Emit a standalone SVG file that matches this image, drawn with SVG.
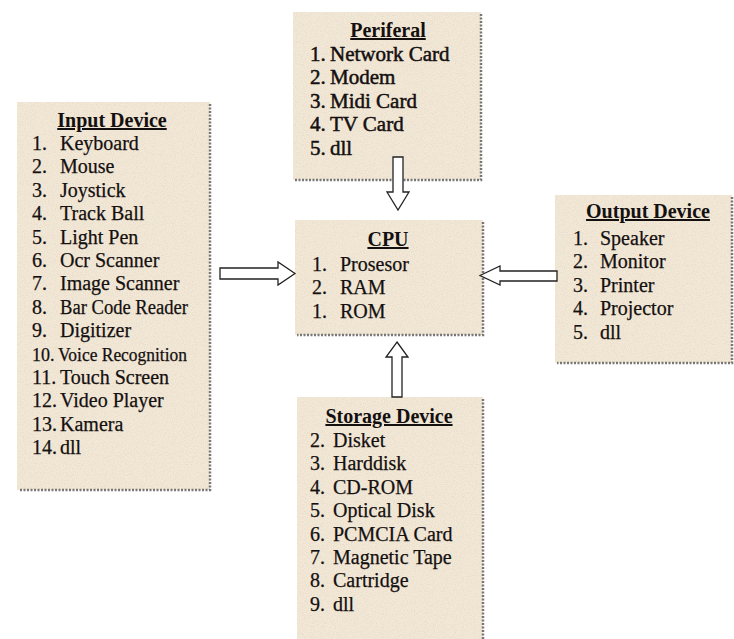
<svg xmlns="http://www.w3.org/2000/svg" width="734" height="639" viewBox="0 0 734 639">
<style>
.box{fill:#f3e8d6}
.shd{fill:none;stroke:#777;stroke-width:2.5;stroke-dasharray:2 1.5}
.t{font-family:"Liberation Serif","Times New Roman",serif;font-size:20px;fill:#141010;stroke:#141010;stroke-width:0.25}
.b{font-size:21px;stroke-width:0.5}
.h{font-weight:bold;text-decoration:underline;text-anchor:middle;stroke-width:0}
.arr{fill:#ffffff;stroke:#222;stroke-width:1.3;stroke-linejoin:miter}
</style>
<defs>
<filter id="tex" x="0" y="0" width="1" height="1">
<feTurbulence type="fractalNoise" baseFrequency="0.9" numOctaves="2" seed="3" result="n"/>
<feColorMatrix in="n" type="matrix" values="0 0 0 0 0.72  0 0 0 0 0.64  0 0 0 0 0.56  0 0 0 -1.4 0.8" result="c"/>
<feComposite in="c" in2="SourceGraphic" operator="in" result="m"/>
<feMerge><feMergeNode in="SourceGraphic"/><feMergeNode in="m"/></feMerge>
</filter>
</defs>
<rect width="734" height="639" fill="#ffffff"/>

<g id="input-device">
<rect class="box" x="17" y="102" width="193" height="388" filter="url(#tex)"/>
<path class="shd" d="M210,104 V490 H19"/>
<text class="t h" x="112" y="127">Input Device</text>
<g class="t">
<text x="32" y="150">1.</text><text x="60" y="150">Keyboard</text>
<text x="32" y="173.4">2.</text><text x="60" y="173.4">Mouse</text>
<text x="32" y="196.8">3.</text><text x="60" y="196.8">Joystick</text>
<text x="32" y="220.2">4.</text><text x="60" y="220.2">Track Ball</text>
<text x="32" y="243.6">5.</text><text x="60" y="243.6">Light Pen</text>
<text x="32" y="267">6.</text><text x="60" y="267">Ocr Scanner</text>
<text x="32" y="290.4">7.</text><text x="60" y="290.4">Image Scanner</text>
<text x="32" y="313.8">8.</text><text x="60" y="313.8" textLength="128" lengthAdjust="spacingAndGlyphs">Bar Code Reader</text>
<text x="32" y="337.2">9.</text><text x="60" y="337.2">Digitizer</text>
<text x="32" y="360.6" font-size="18">10.</text><text x="58" y="360.6" font-size="18" textLength="129" lengthAdjust="spacingAndGlyphs">Voice Recognition</text>
<text x="32" y="384">11.</text><text x="60" y="384">Touch Screen</text>
<text x="32" y="407.4">12.</text><text x="60" y="407.4">Video Player</text>
<text x="32" y="430.8">13.</text><text x="60" y="430.8">Kamera</text>
<text x="32" y="454.2">14.</text><text x="60" y="454.2">dll</text>
</g>
</g>

<g id="periferal">
<rect class="box" x="293" y="12" width="188" height="168" filter="url(#tex)"/>
<path class="shd" d="M481,14 V180 H295"/>
<text class="t h" x="388" y="37">Periferal</text>
<g class="t b">
<text x="310" y="61">1.</text><text x="330" y="61">Network Card</text>
<text x="310" y="84.4">2.</text><text x="330" y="84.4">Modem</text>
<text x="310" y="107.8">3.</text><text x="330" y="107.8">Midi Card</text>
<text x="310" y="131.2">4.</text><text x="330" y="131.2">TV Card</text>
<text x="310" y="154.6">5.</text><text x="330" y="154.6">dll</text>
</g>
</g>

<g id="cpu">
<rect class="box" x="295" y="220" width="188" height="115" filter="url(#tex)"/>
<path class="shd" d="M483,222 V335 H297"/>
<text class="t h" x="388" y="246">CPU</text>
<g class="t">
<text x="312" y="271">1.</text><text x="340" y="271">Prosesor</text>
<text x="312" y="294.4">2.</text><text x="340" y="294.4">RAM</text>
<text x="312" y="317.8">1.</text><text x="340" y="317.8">ROM</text>
</g>
</g>

<g id="output-device">
<rect class="box" x="555" y="195" width="177" height="168" filter="url(#tex)"/>
<path class="shd" d="M732,197 V363 H557"/>
<text class="t h" x="648" y="218">Output Device</text>
<g class="t">
<text x="573" y="245">1.</text><text x="600" y="245">Speaker</text>
<text x="573" y="268.4">2.</text><text x="600" y="268.4">Monitor</text>
<text x="573" y="291.8">3.</text><text x="600" y="291.8">Printer</text>
<text x="573" y="315.2">4.</text><text x="600" y="315.2">Projector</text>
<text x="573" y="338.6">5.</text><text x="600" y="338.6">dll</text>
</g>
</g>

<g id="storage-device">
<rect class="box" x="297" y="397" width="186" height="245" filter="url(#tex)"/>
<path class="shd" d="M483,399 V642"/>
<text class="t h" x="389" y="423">Storage Device</text>
<g class="t">
<text x="310" y="447">2.</text><text x="333" y="447">Disket</text>
<text x="310" y="470.4">3.</text><text x="333" y="470.4">Harddisk</text>
<text x="310" y="493.8">4.</text><text x="333" y="493.8">CD-ROM</text>
<text x="310" y="517.2">5.</text><text x="333" y="517.2">Optical Disk</text>
<text x="310" y="540.6">6.</text><text x="333" y="540.6">PCMCIA Card</text>
<text x="310" y="564">7.</text><text x="333" y="564">Magnetic Tape</text>
<text x="310" y="587.4">8.</text><text x="333" y="587.4">Cartridge</text>
<text x="310" y="610.8">9.</text><text x="333" y="610.8">dll</text>
</g>
</g>

<g id="connectors">
<polygon class="arr" points="393,157 403,157 403,192 409,192 398,210 387,192 393,192"/>
<polygon class="arr" points="397,342 408,357 402,357 402,397 392,397 392,357 386,357"/>
<polygon class="arr" points="220,268 278,268 278,262 295,273.5 278,285 278,279 220,279"/>
<polygon class="arr" points="480,275.5 500,266 500,271 557,271 557,281 500,281 500,285"/>
</g>
</svg>
